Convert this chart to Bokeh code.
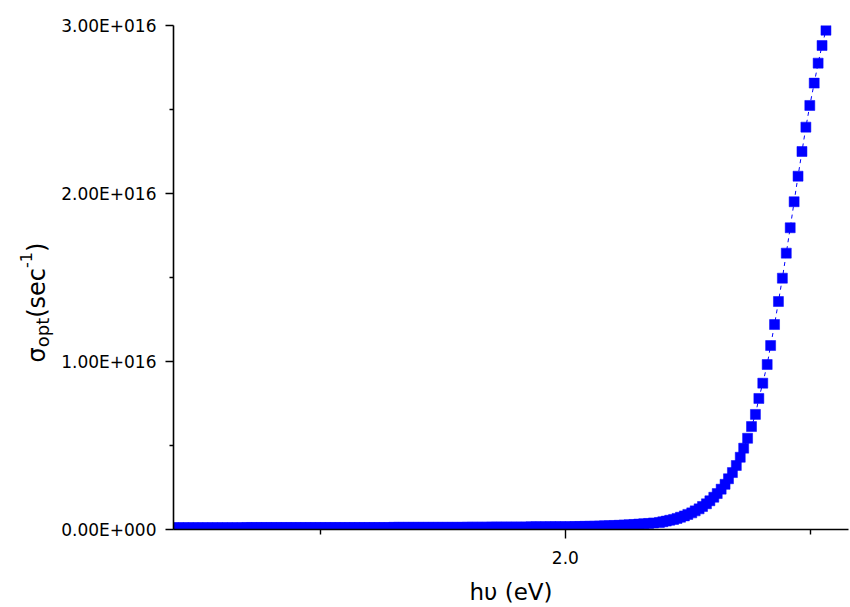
import math
from bokeh.plotting import figure
from bokeh.layouts import row
from bokeh.models import ColumnDataSource, FixedTicker, Label, CustomJSTickFormatter
from bokeh.embed import file_html
from bokeh.resources import INLINE

# ---- data (photon energy in eV, sigma_opt in units of 1e16 s^-1) ----
hv_flat = [1.20, 1.21, 1.22, 1.23, 1.24, 1.25, 1.26, 1.27, 1.28, 1.29,
           1.30, 1.31, 1.32, 1.33, 1.34, 1.35, 1.36, 1.37, 1.38, 1.39,
           1.40, 1.41, 1.42, 1.43, 1.44, 1.45, 1.46, 1.47, 1.48, 1.49,
           1.50, 1.51, 1.52, 1.53, 1.54, 1.55, 1.56, 1.57, 1.58, 1.59,
           1.60, 1.61, 1.62, 1.63, 1.64, 1.65, 1.66, 1.67, 1.68, 1.69,
           1.70, 1.71, 1.72, 1.73, 1.74, 1.75, 1.76, 1.77, 1.78, 1.79,
           1.80, 1.81, 1.82, 1.83, 1.84, 1.85, 1.86, 1.87, 1.88, 1.89,
           1.90, 1.91, 1.92, 1.93, 1.94, 1.95, 1.96, 1.97, 1.98, 1.99,
           2.00, 2.01, 2.02, 2.03, 2.04, 2.05, 2.06, 2.07, 2.08, 2.09,
           2.10, 2.11, 2.12, 2.13, 2.14, 2.15, 2.16, 2.17, 2.18]
sigma_flat = [0.011, 0.011, 0.011, 0.011, 0.011, 0.011, 0.011, 0.011, 0.011, 0.011,
              0.011, 0.011, 0.011, 0.011, 0.011, 0.012, 0.012, 0.012, 0.012, 0.012,
              0.012, 0.012, 0.012, 0.012, 0.012, 0.012, 0.012, 0.012, 0.012, 0.012,
              0.012, 0.012, 0.012, 0.012, 0.012, 0.012, 0.012, 0.012, 0.012, 0.012,
              0.012, 0.012, 0.012, 0.012, 0.012, 0.013, 0.013, 0.013, 0.013, 0.013,
              0.013, 0.013, 0.013, 0.013, 0.013, 0.013, 0.013, 0.013, 0.013, 0.013,
              0.014, 0.014, 0.014, 0.014, 0.014, 0.015, 0.015, 0.015, 0.015, 0.015,
              0.015, 0.015, 0.015, 0.016, 0.016, 0.016, 0.016, 0.017, 0.017, 0.017,
              0.017, 0.017, 0.018, 0.018, 0.019, 0.019, 0.020, 0.021, 0.022, 0.023,
              0.024, 0.025, 0.027, 0.028, 0.030, 0.032, 0.034, 0.036, 0.039]
hv_rise = [2.192, 2.199, 2.206, 2.213, 2.221, 2.228, 2.235, 2.243, 2.250, 2.258,
           2.265, 2.273, 2.280, 2.288, 2.295, 2.303, 2.310, 2.318, 2.326, 2.333,
           2.341, 2.349, 2.357, 2.364, 2.372, 2.380, 2.388, 2.395, 2.403, 2.412,
           2.419, 2.427, 2.435, 2.443, 2.451, 2.459, 2.467, 2.475, 2.483, 2.491,
           2.499, 2.508, 2.516, 2.524, 2.532]
sigma_rise = [0.042, 0.046, 0.050, 0.055, 0.060, 0.066, 0.073, 0.081, 0.090, 0.099,
              0.111, 0.123, 0.137, 0.153, 0.171, 0.192, 0.214, 0.240, 0.269, 0.302,
              0.339, 0.381, 0.430, 0.484, 0.543, 0.613, 0.685, 0.780, 0.871, 0.982,
              1.095, 1.220, 1.357, 1.496, 1.645, 1.796, 1.951, 2.103, 2.250, 2.395,
              2.524, 2.657, 2.776, 2.881, 2.972]
SCALE = 1e16

x_ticks = [2.0]
x_minor = [1.5, 2.5]
x_tick_labels = ["2.0"]
y_ticks = [0.0, 1e16, 2e16, 3e16]
y_minor = [0.5e16, 1.5e16, 2.5e16]
y_tick_labels = ["0.00E+000", "1.00E+016", "2.00E+016", "3.00E+016"]

hv = hv_flat + hv_rise
sigma = [v * SCALE for v in sigma_flat + sigma_rise]
src = ColumnDataSource(data=dict(hv=hv, sigma=sigma))

FONT = "DejaVu Sans"
W, H = 850, 607
LW = 58  # width of the strip that carries the rotated y title
FB = 529  # frame bottom (canvas px), shared by both plots in the row

# ---- main plot ----
p = figure(width=W - LW, height=H, x_range=(1.2, 2.578), y_range=(0, 3e16),
           output_backend="svg", toolbar_location=None,
           min_border_left=173 - LW, min_border_right=2, min_border_top=25, min_border_bottom=H - FB)
p.xgrid.visible = False
p.ygrid.visible = False
p.outline_line_color = None
p.background_fill_color = "white"
p.border_fill_color = "white"

p.line("hv", "sigma", source=src, line_color="#0000FF", line_width=1, line_dash="4 4")
p.scatter("hv", "sigma", source=src, marker="square", size=10,
          fill_color="#0000FF", line_color="#0000FF", line_width=0.5)

fmt_code = "const i = vals.indexOf(tick); return i >= 0 ? labels[i] : '';"
p.xaxis.ticker = FixedTicker(ticks=x_ticks, minor_ticks=x_minor)
p.xaxis.formatter = CustomJSTickFormatter(args=dict(vals=x_ticks, labels=x_tick_labels), code=fmt_code)
p.yaxis.ticker = FixedTicker(ticks=y_ticks, minor_ticks=y_minor)
p.yaxis.formatter = CustomJSTickFormatter(args=dict(vals=y_ticks, labels=y_tick_labels), code=fmt_code)

for ax in (p.xaxis[0], p.yaxis[0]):
    ax.axis_line_color = "black"
    ax.axis_line_width = 1.6
    ax.major_tick_line_color = "black"
    ax.minor_tick_line_color = "black"
    ax.major_tick_line_width = 1.4
    ax.minor_tick_line_width = 1.4
    ax.major_tick_in = 0
    ax.minor_tick_in = 0
    ax.major_label_text_font = FONT
    ax.major_label_text_font_size = "17px"
    ax.major_label_text_color = "black"
    ax.major_label_standoff = 9

p.yaxis.major_tick_out = 8
p.yaxis.minor_tick_out = 4
p.xaxis.major_tick_out = 9
p.xaxis.minor_tick_out = 5
p.xaxis.major_label_standoff = 12

p.xaxis.axis_label = "hυ (eV)"
p.xaxis.axis_label_text_font = FONT
p.xaxis.axis_label_text_font_size = "23px"
p.xaxis.axis_label_text_font_style = "normal"
p.xaxis.axis_label_text_color = "black"
p.xaxis.axis_label_standoff = 12

# ---- left strip with the rotated y title: sigma_opt(sec^-1) ----
t = figure(width=LW, height=H, x_range=(0, 1), y_range=(0, 1),
           output_backend="svg", toolbar_location=None,
           min_border_left=0, min_border_right=0, min_border_top=25, min_border_bottom=H - FB)
t.axis.visible = False
t.grid.visible = False
t.outline_line_color = None
t.background_fill_color = "white"
t.border_fill_color = "white"

pieces = [  # text, size, canvas x of baseline, canvas y of start
    ("σ", "24px", 36, 362),
    ("opt", "18px", 42, 346.8),
    ("(sec", "24px", 36, 317.3),
    ("-1", "16px", 25, 267.5),
    (")", "24px", 36, 251.5),
]
for txt, fs, cx, cy in pieces:
    t.add_layout(Label(x=cx, y=FB - cy, x_units="screen", y_units="screen",
                       text=txt, angle=math.pi / 2, text_align="left",
                       text_baseline="alphabetic", text_font=FONT,
                       text_font_size=fs, text_color="black"))

layout = row(t, p, spacing=0)
open("out.html", "w").write(file_html(layout, INLINE))
